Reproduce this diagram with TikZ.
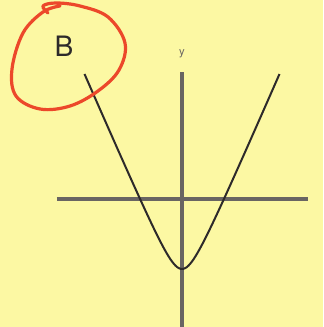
\documentclass[tikz,border=0pt]{standalone}
\usepackage{fontspec}
\usepackage{tikz}
\usetikzlibrary{positioning}
\newfontfamily\labelfont{TeX Gyre Heros}
\definecolor{paper}{RGB}{252,248,163}
\definecolor{axisgray}{RGB}{105,101,98}
\definecolor{curvegray}{RGB}{45,42,42}
\definecolor{ringred}{RGB}{236,72,42}

\begin{document}
\begin{tikzpicture}[x=2.5mm, y=2.5mm,
        axis/.style={draw=axisgray, line width=1mm},
        graph/.style={draw=curvegray, line width=0.5mm, line join=round},
        ring/.style={draw=ringred, line width=0.8mm, line cap=round, line join=round},
        letter/.style={font=\labelfont\fontsize{20}{20}\selectfont, text=curvegray, inner sep=0pt},
        axislabel/.style={font=\labelfont\fontsize{8}{8}\selectfont, text=axisgray, inner sep=0pt}
    ]
        % page
        \fill[paper] (-18.2,-12.8) rectangle (14.1,19.9);
        \useasboundingbox (-18.2,-12.8) rectangle (14.1,19.9);

        % axes
        \coordinate (xl) at (-12.5,0);
        \coordinate (xr) at (12.6,0);
        \coordinate (yt) at (0,12.7);
        \coordinate (yb) at (0,-12.8);
        \draw[axis] (xl) -- (xr);
        \draw[axis] (yb) -- (yt);
        \node[axislabel, above=3.5mm of yt] (ylab) {y};

        % curve
        \draw[graph] plot[domain=-9.75:9.75, samples=121, smooth]
            (\x, {2.3*sqrt(\x*\x+1.87)-2.3*1.367-7});

        % circled letter
        \node[letter] (b) at (-11.8,15.3) {B};
        \draw[ring] plot[smooth, tension=0.6] coordinates {
            (-13.4,18.6) (-13.9,19.3) (-12.6,19.6) (-10.2,19.3) (-7.4,18.2)
            (-5.7,15.6) (-6.3,12.9) (-8.4,10.8) (-11.2,9.3) (-14.2,9.0)
            (-16.6,10.3) (-17.0,13.0) (-15.9,16.6) (-13.9,18.7) (-12.2,19.3)};
    \end{tikzpicture}
\end{document}
